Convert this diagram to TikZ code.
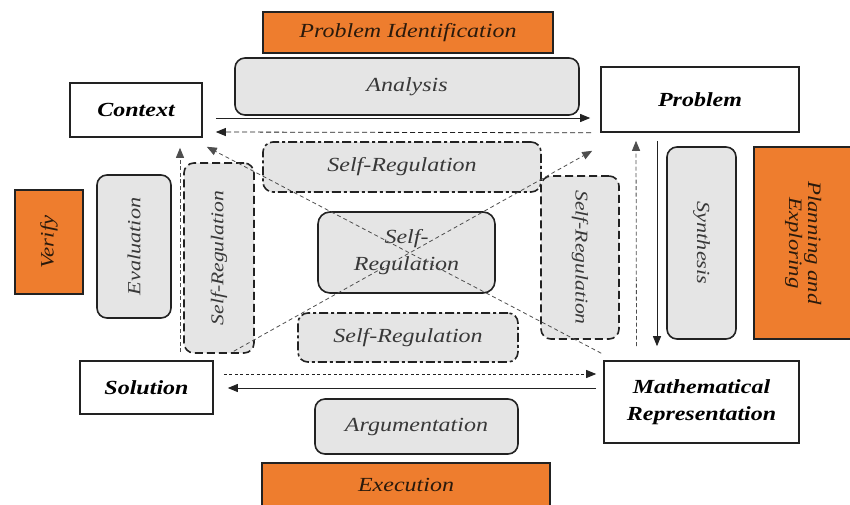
\documentclass[tikz,border=0pt]{standalone}
\usepackage{fontspec}
\setmainfont{Liberation Serif}[FakeStretch=1.2]
\usetikzlibrary{arrows.meta,calc}
\definecolor{orng}{HTML}{EE7D2E}
\definecolor{boxgray}{HTML}{E5E5E5}
\definecolor{edge}{HTML}{222222}
\definecolor{txt}{HTML}{383838}
\definecolor{otxt}{HTML}{2A1A0C}
\begin{document}
\begin{tikzpicture}[x=1pt,y=-1pt,
  whitebox/.style={draw=edge, line width=1.6pt, fill=white, inner sep=0pt, align=center,
    font=\fontsize{20}{27}\selectfont\bfseries\itshape},
  orangebox/.style={draw=edge, line width=1.6pt, fill=orng, inner sep=0pt, align=center,
    text=otxt, font=\fontsize{20}{22}\selectfont\itshape},
  graybox/.style={draw=edge, line width=1.6pt, fill=boxgray, rounded corners=10pt, inner sep=0pt,
    align=center, text=txt, font=\fontsize{20}{27}\selectfont\itshape},
  dashbox/.style={graybox, dash pattern=on 8pt off 4pt},
  dotdashbox/.style={graybox, dash pattern=on 9pt off 3pt on 3pt off 3pt},
  tip/.style={-{Triangle[length=10pt,width=8pt]}},
  conn/.style={draw=edge, line width=0.8pt},
  fine/.style={draw=edge!80, line width=0.8pt, dash pattern=on 4pt off 2.5pt},
  diag/.style={draw=edge!80, line width=0.8pt, dash pattern=on 4pt off 3pt},
]
\useasboundingbox (0,0) rectangle (850,504);
\clip (0,0) rectangle (850,504);

% top row
\node[orangebox, minimum width=290pt, minimum height=41pt] (pid) at (408,32.5) {Problem Identification};
\node[graybox, minimum width=344pt, minimum height=57pt] (ana) at (407,86.5) {Analysis};
\node[whitebox, minimum width=132pt, minimum height=54pt] (ctx) at (136,110) {Context};
\node[whitebox, minimum width=198pt, minimum height=65pt] (prob) at (700,99.5) {Problem};

% self-regulation ring
\node[dotdashbox, minimum width=278pt, minimum height=50pt] (srt) at (402,167) {Self-Regulation};
\node[dashbox, minimum width=70pt, minimum height=190pt] (srl) at (219,258)
  {\rotatebox{90}{\fontsize{18}{20}\selectfont\itshape Self-Regulation}};
\node[dashbox, minimum width=78pt, minimum height=163pt] (srr) at (580,257.5)
  {\rotatebox{-90}{\fontsize{18}{20}\selectfont\itshape Self-Regulation}};
\node[dotdashbox, minimum width=220pt, minimum height=49pt] (srb) at (408,337.5) {Self-Regulation};
\node[graybox, rounded corners=12pt, minimum width=177pt, minimum height=81pt] (src) at (406.5,252.5) {Self-\\Regulation};

% side boxes
\node[orangebox, minimum width=68pt, minimum height=104pt] (ver) at (49,242)
  {\rotatebox{90}{\fontsize{19}{21}\selectfont\itshape Verify}};
\node[graybox, minimum width=74pt, minimum height=143pt] (eval) at (134,246.5)
  {\rotatebox{90}{\fontsize{18.5}{20}\selectfont\itshape Evaluation}};
\node[graybox, minimum width=69pt, minimum height=192pt] (syn) at (701.5,243)
  {\rotatebox{-90}{\fontsize{18.5}{20}\selectfont\itshape Synthesis}};
\node[orangebox, minimum width=98pt, minimum height=192pt] (plan) at (803,243)
  {\rotatebox{-90}{\begin{tabular}{@{}c@{}}\fontsize{19}{21}\selectfont\itshape Planning and\\[-3pt]\fontsize{19}{21}\selectfont\itshape Exploring\end{tabular}}};

% bottom row
\node[whitebox, minimum width=133pt, minimum height=53pt] (sol) at (146.5,387.5) {Solution};
\node[whitebox, minimum width=195pt, minimum height=82pt] (math) at (701.5,402) {Mathematical\\Representation};
\node[graybox, minimum width=203pt, minimum height=55pt] (arg) at (416.5,426.5) {Argumentation};
\node[orangebox, minimum width=288pt, minimum height=43pt] (exe) at (406,484.5) {Execution};

% horizontal connectors
\draw[conn, tip] ($(ctx.east)+(13,8)$) -- ($(prob.west)+(-10,18.5)$);
\draw[conn, tip, dash pattern=on 5pt off 3pt] ($(prob.south west)+(-9,0)$) -- ($(ctx.east)+(13,22)$);
\draw[conn, tip, dash pattern=on 3pt off 2.5pt] ($(sol.east)+(10,-13.5)$) -- ($(math.west)+(-7,-28)$);
\draw[conn, tip] ($(math.west)+(-7,-14)$) -- ($(sol.east)+(14,0.5)$);

% vertical connectors
\draw[fine, tip] ($(sol.north)+(33.5,-8)$) -- ($(ctx.south)+(44,10)$);
\draw[fine, tip] ($(math.north)+(-65,-14)$) -- ($(prob.south)+(-64,8)$);
\draw[conn, tip] ($(prob.south)+(-43,8)$) -- ($(math.north)+(-44.5,-14)$);

% diagonals
\draw[diag, tip] ($(math.north west)+(-2,-7)$) -- ($(ctx.south east)+(4,9)$);
\draw[diag, tip] ($(sol.north east)+(20,-9)$) -- ($(prob.south west)+(-8,18)$);
\end{tikzpicture}
\end{document}
